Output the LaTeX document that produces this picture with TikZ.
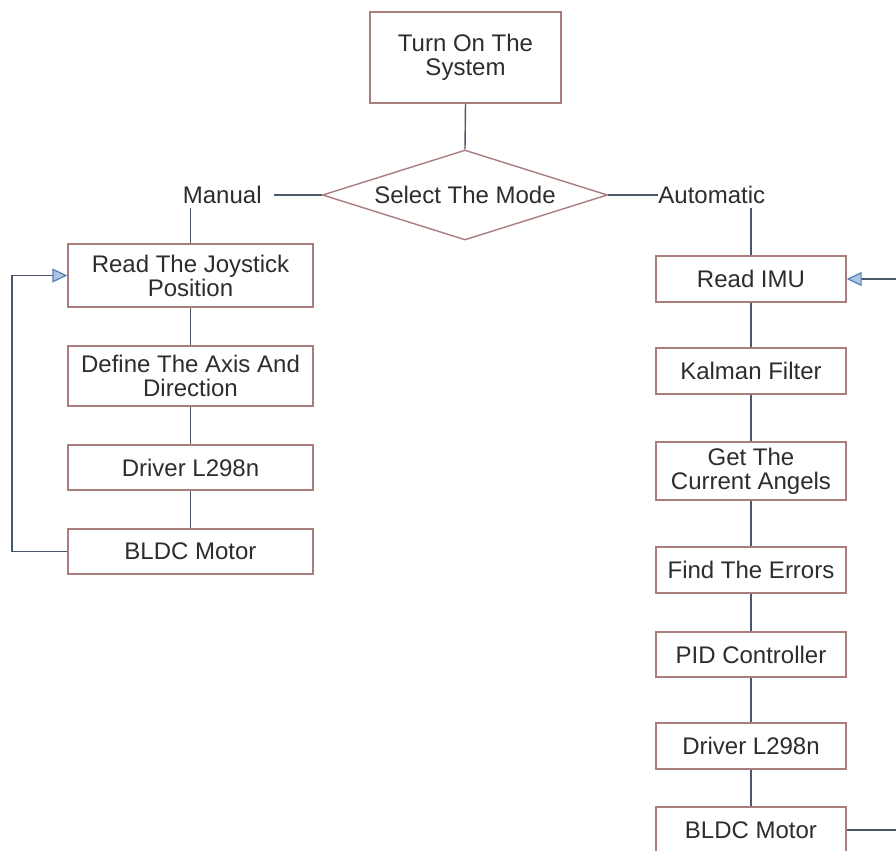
\documentclass[tikz,border=0pt]{standalone}
\usepackage{fontspec}
\setmainfont{Liberation Sans}
\usetikzlibrary{shapes.geometric,arrows.meta}
\definecolor{boxcol}{RGB}{170,125,125}
\definecolor{linecol}{RGB}{75,88,105}
\definecolor{txtcol}{RGB}{45,45,45}
\definecolor{arrowfill}{RGB}{170,198,230}
\definecolor{arrowline}{RGB}{90,125,175}
\tikzset{
  x=0.5pt, y=-0.5pt,
  every node/.style={font=\fontsize{12pt}{12pt}\selectfont, text=txtcol},
  boxL/.style={draw=boxcol, line width=0.7pt, rectangle, minimum width=122.5pt, inner sep=0pt, align=center},
  boxR/.style={draw=boxcol, line width=0.7pt, rectangle, minimum width=95pt, inner sep=0pt, align=center},
  conn/.style={draw=linecol, line width=0.7pt},
  fb/.style={conn, -{Triangle[length=7.5pt,width=7pt,color=arrowline,fill=arrowfill,line width=0.6pt]}},
  lbl/.style={inner sep=0pt, minimum height=13pt}
}
\begin{document}
\begin{tikzpicture}
\useasboundingbox (0,0) rectangle (896,851);
\fill[white] (0,0) rectangle (896,851);
\clip (0,0) rectangle (896,851);

% top
\node[draw=boxcol, line width=0.7pt, minimum width=95.5pt, minimum height=45.5pt, inner sep=0pt, align=center] (start) at (465.5,57.5) {Turn On The\\System};
\node[diamond, draw=boxcol, line width=0.7pt, aspect=3.17, minimum width=142.5pt, minimum height=45pt, inner sep=0pt] (mode) at (465,195) {Select The Mode};

% labels
\node[lbl, anchor=east] (manual) at (262,195) {Manual};
\node[lbl, anchor=west] (auto) at (658,195) {Automatic};

% left column
\node[boxL, minimum height=31.5pt] (ljoy) at (190.5,275.5) {Read The Joystick\\Position};
\node[boxL, minimum height=30pt] (laxis) at (190.5,376) {Define The Axis And\\Direction};
\node[boxL, minimum height=22.5pt] (ldrv) at (190.5,467.5) {Driver L298n};
\node[boxL, minimum height=22.5pt] (lbldc) at (190.5,551.5) {BLDC Motor};

% right column
\node[boxR, minimum height=23pt] (imu) at (751,279) {Read IMU};
\node[boxR, minimum height=23pt] (kal) at (751,371) {Kalman Filter};
\node[boxR, minimum height=29pt] (ang) at (751,471) {Get The\\Current Angels};
\node[boxR, minimum height=23pt] (err) at (751,570) {Find The Errors};
\node[boxR, minimum height=22.5pt] (pid) at (751,654.5) {PID Controller};
\node[boxR, minimum height=23pt] (rdrv) at (751,746) {Driver L298n};
\node[boxR, minimum height=23pt] (rbldc) at (751,830) {BLDC Motor};

\coordinate (lcorner) at (12,0);
\coordinate (rcorner) at (910,0);

% connectors
\draw[conn] (start.south) -- (mode.north);
\draw[conn] ([xshift=6pt]manual.east) -- (mode.west);
\draw[conn] (mode.east) -- (auto.west);
\draw[conn] (manual.south -| ljoy.north) -- (ljoy.north);
\draw[conn] (auto.south -| imu.north) -- (imu.north);

\draw[conn] (ljoy) -- (laxis);
\draw[conn] (laxis) -- (ldrv);
\draw[conn] (ldrv) -- (lbldc);

\draw[conn] (imu) -- (kal);
\draw[conn] (kal) -- (ang);
\draw[conn] (ang) -- (err);
\draw[conn] (err) -- (pid);
\draw[conn] (pid) -- (rdrv);
\draw[conn] (rdrv) -- (rbldc);

% feedback loops
\draw[fb] (lbldc.west) -- (lbldc.west -| lcorner) |- (ljoy.west);
\draw[fb] (rbldc.east) -- (rbldc.east -| rcorner) |- (imu.east);
\end{tikzpicture}
\end{document}
